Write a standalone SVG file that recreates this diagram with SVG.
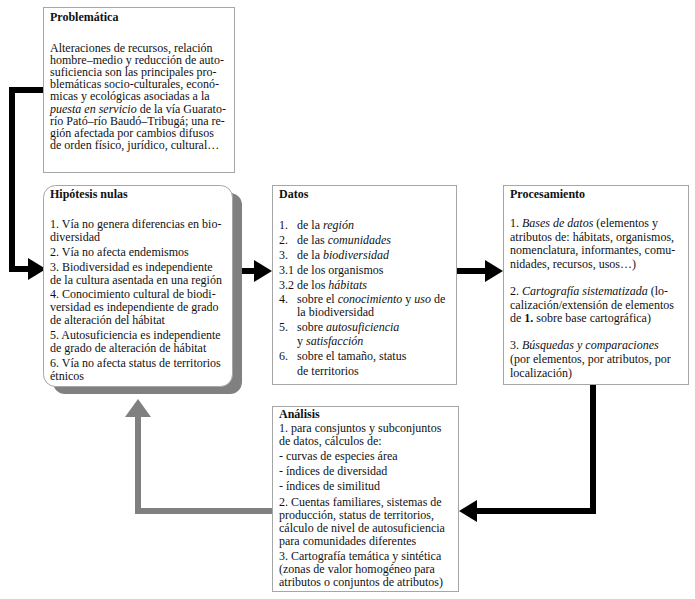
<svg xmlns="http://www.w3.org/2000/svg" width="695" height="599" viewBox="0 0 695 599">
<defs>
<style>
.box{fill:#fff;stroke:#a6a6a6;stroke-width:1}
.t{font-family:"Liberation Serif","Times New Roman",serif;font-size:12px;fill:#111}
.h{font-weight:bold}
.i{font-style:italic}
.blk{fill:none;stroke:#000;stroke-width:6}
.gry{fill:none;stroke:#808080;stroke-width:6}
</style>
<marker id="ab" markerUnits="userSpaceOnUse" markerWidth="18" markerHeight="22" refX="0" refY="11" orient="auto" overflow="visible">
<path d="M0,0 L18,11 L0,22 Z" fill="#000"/>
</marker>
<marker id="ag" markerUnits="userSpaceOnUse" markerWidth="18" markerHeight="26" refX="0" refY="13" orient="auto" overflow="visible">
<path d="M0,0 L18,13 L0,26 Z" fill="#808080"/>
</marker>
</defs>

<g id="connectors">
<path class="blk" d="M43,90 H12 V269 H28" marker-end="url(#ab)"/>
<path class="blk" d="M242,271 H254" marker-end="url(#ab)"/>
<path class="blk" d="M457,271 H485" marker-end="url(#ab)"/>
<path class="blk" d="M593,384 V511 H477" marker-end="url(#ab)"/>
<path class="gry" d="M272,511 H138 V417" marker-end="url(#ag)"/>
</g>

<g id="problematica">
<rect class="box" x="43.5" y="7.5" width="191" height="165"/>
<text class="t h" x="50" y="21">Problemática</text>
<text class="t">
<tspan x="50" y="51.5">Alteraciones de recursos, relación</tspan>
<tspan x="50" y="63.7">hombre–medio y reducción de auto-</tspan>
<tspan x="50" y="75.9">suficiencia son las principales pro-</tspan>
<tspan x="50" y="88.1">blemáticas socio-culturales, econó-</tspan>
<tspan x="50" y="100.3">micas y ecológicas asociadas a la</tspan>
<tspan x="50" y="112.5"><tspan class="i">puesta en servicio</tspan> de la vía Guarato-</tspan>
<tspan x="50" y="124.7">río Pató–río Baudó–Tribugá; una re-</tspan>
<tspan x="50" y="136.9">gión afectada por cambios difusos</tspan>
<tspan x="50" y="149.1">de orden físico, jurídico, cultural…</tspan>
</text>
</g>

<g id="hipotesis">
<rect x="53" y="193" width="189" height="201" rx="12" fill="#808080"/>
<rect class="box" x="43.5" y="185.5" width="189" height="201" rx="12"/>
<text class="t h" x="50" y="197.5">Hipótesis nulas</text>
<text class="t">
<tspan x="50" y="228">1. Vía no genera diferencias en bio-</tspan>
<tspan x="50" y="241">diversidad</tspan>
<tspan x="50" y="255.8">2. Vía no afecta endemismos</tspan>
<tspan x="50" y="270.6">3. Biodiversidad es independiente</tspan>
<tspan x="50" y="283.6">de la cultura asentada en una región</tspan>
<tspan x="50" y="298.4">4. Conocimiento cultural de biodi-</tspan>
<tspan x="50" y="311.4">versidad es independiente de grado</tspan>
<tspan x="50" y="324.4">de alteración del hábitat</tspan>
<tspan x="50" y="339.2">5. Autosuficiencia es independiente</tspan>
<tspan x="50" y="352.2">de grado de alteración de hábitat</tspan>
<tspan x="50" y="367">6. Vía no afecta status de territorios</tspan>
<tspan x="50" y="380">étnicos</tspan>
</text>
</g>

<g id="datos">
<rect class="box" x="272.5" y="185.5" width="184" height="199"/>
<text class="t h" x="279" y="198">Datos</text>
<text class="t">
<tspan x="279" y="229">1.</tspan><tspan x="297" y="229">de la <tspan class="i">región</tspan></tspan>
<tspan x="279" y="244">2.</tspan><tspan x="297" y="244">de las <tspan class="i">comunidades</tspan></tspan>
<tspan x="279" y="259">3.</tspan><tspan x="297" y="259">de la <tspan class="i">biodiversidad</tspan></tspan>
<tspan x="279" y="273.5">3.1 de los organismos</tspan>
<tspan x="279" y="288.5">3.2 de los <tspan class="i">hábitats</tspan></tspan>
<tspan x="279" y="303">4.</tspan><tspan x="297" y="303">sobre el <tspan class="i">conocimiento</tspan> y <tspan class="i">uso</tspan> de</tspan>
<tspan x="297" y="316">la biodiversidad</tspan>
<tspan x="279" y="331">5.</tspan><tspan x="297" y="331">sobre <tspan class="i">autosuficiencia</tspan></tspan>
<tspan x="297" y="345">y <tspan class="i">satisfacción</tspan></tspan>
<tspan x="279" y="360">6.</tspan><tspan x="297" y="360">sobre el tamaño, status</tspan>
<tspan x="297" y="374.5">de territorios</tspan>
</text>
</g>

<g id="procesamiento">
<rect class="box" x="503.5" y="185.5" width="185" height="199"/>
<text class="t h" x="510" y="198">Procesamiento</text>
<text class="t">
<tspan x="510" y="227">1. <tspan class="i">Bases de datos</tspan> (elementos y</tspan>
<tspan x="510" y="240.6">atributos de: hábitats, organismos,</tspan>
<tspan x="510" y="254.2">nomenclatura, informantes, comu-</tspan>
<tspan x="510" y="267.8">nidades, recursos, usos…)</tspan>
<tspan x="510" y="295">2. <tspan class="i">Cartografía sistematizada</tspan> (lo-</tspan>
<tspan x="510" y="308.6">calización/extensión de elementos</tspan>
<tspan x="510" y="322.2">de <tspan class="h">1.</tspan> sobre base cartográfica)</tspan>
<tspan x="510" y="349.4">3. <tspan class="i">Búsquedas y comparaciones</tspan></tspan>
<tspan x="510" y="363">(por elementos, por atributos, por</tspan>
<tspan x="510" y="376.6">localización)</tspan>
</text>
</g>

<g id="analisis">
<rect class="box" x="272.5" y="406.5" width="186" height="185"/>
<text class="t h" x="279" y="418">Análisis</text>
<text class="t">
<tspan x="279" y="432">1. para consjuntos y subconjuntos</tspan>
<tspan x="279" y="445">de datos, cálculos de:</tspan>
<tspan x="279" y="460">- curvas de especies área</tspan>
<tspan x="279" y="475">- índices de diversidad</tspan>
<tspan x="279" y="490">- índices de similitud</tspan>
<tspan x="279" y="505.5">2. Cuentas familiares, sistemas de</tspan>
<tspan x="279" y="518.5">producción, status de territorios,</tspan>
<tspan x="279" y="531.5">cálculo de nivel de autosuficiencia</tspan>
<tspan x="279" y="544.5">para comunidades diferentes</tspan>
<tspan x="279" y="559.5">3. Cartografía temática y sintética</tspan>
<tspan x="279" y="572.5">(zonas de valor homogéneo para</tspan>
<tspan x="279" y="585.5">atributos o conjuntos de atributos)</tspan>
</text>
</g>
</svg>
